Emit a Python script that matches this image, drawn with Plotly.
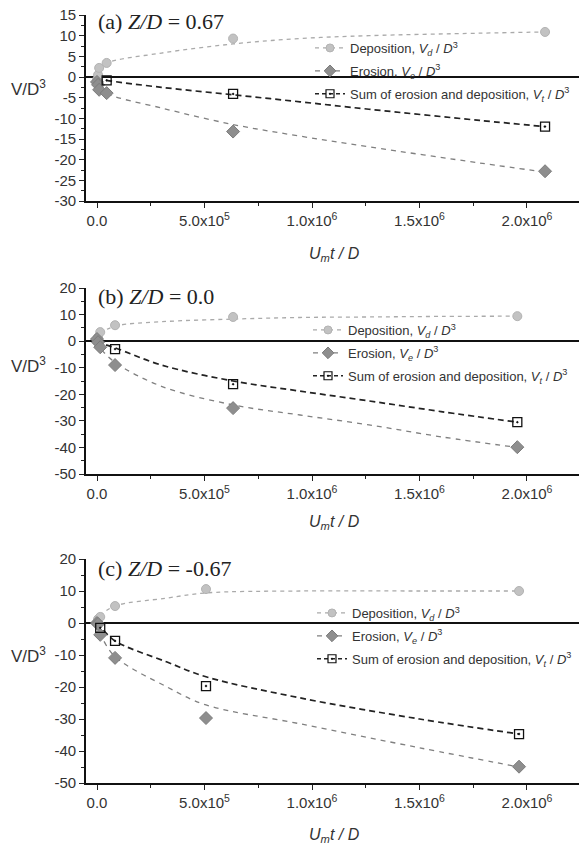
import plotly.graph_objects as go

# ---------------- data ----------------
# Panel (a) Z/D = 0.67
a_x = [0, 5e3, 1e4, 4.5e4, 6.33e5, 2.084e6]
a_dep = [-0.7, 0.5, 2.2, 3.4, 9.3, 10.9]
a_ero = [-1.2, -1.9, -3.1, -3.9, -13.2, -22.8]
a_sum_x = [4.5e4, 6.33e5, 2.084e6]
a_sum = [-0.8, -4.1, -12.0]
a_fit_x = [0, 1e4, 4.5e4, 3e5, 6.33e5, 9.44e5, 1.265e6, 1.78e6, 2.084e6]
a_fit_dep = [0.0, 2.0, 3.4, 5.8, 8.0, 9.3, 10.0, 10.6, 10.9]
a_fit_ero = [0.0, -2.0, -3.9, -7.5, -11.5, -14.3, -16.9, -20.8, -23.0]
a_fit_sum = [0.0, -0.4, -0.8, -2.5, -4.3, -6.0, -7.8, -10.5, -12.0]

# Panel (b) Z/D = 0.0
b_x = [0, 5e3, 1.5e4, 8.4e4, 6.33e5, 1.955e6]
b_dep = [0.0, 1.5, 3.4, 6.0, 9.1, 9.4]
b_ero = [0.8, -0.4, -2.3, -9.0, -25.2, -39.9]
b_sum_x = [8.4e4, 6.33e5, 1.955e6]
b_sum = [-3.0, -16.2, -30.5]
b_fit_x = [0, 2e4, 8.4e4, 3e5, 6.33e5, 9.44e5, 1.265e6, 1.6e6, 1.955e6]
b_fit_dep = [0.0, 3.0, 5.6, 7.3, 8.3, 8.9, 9.1, 9.3, 9.4]
b_fit_ero = [0.0, -3.0, -8.0, -17.0, -24.0, -27.8, -31.5, -36.0, -40.0]
b_fit_sum = [0.0, -0.8, -2.5, -9.0, -15.0, -18.8, -22.5, -26.5, -30.5]

# Panel (c) Z/D = -0.67
c_x = [0, 5e3, 1.5e4, 8.4e4, 5.07e5, 1.963e6]
c_dep = [0.0, 1.2, 1.9, 5.3, 10.6, 10.0]
c_ero = [0.0, -0.3, -3.7, -10.9, -29.7, -44.9]
c_sum_x = [1.5e4, 8.4e4, 5.07e5, 1.963e6]
c_sum = [-1.5, -5.6, -19.7, -34.7]
c_fit_x = [0, 2e4, 8.4e4, 3.26e5, 5.07e5, 9.44e5, 1.5e6, 1.963e6]
c_fit_dep = [0.0, 2.5, 5.3, 7.8, 9.4, 10.0, 10.0, 10.0]
c_fit_ero = [0.0, -4.0, -10.5, -20.0, -25.6, -31.5, -39.0, -45.0]
c_fit_sum = [0.0, -1.5, -5.6, -12.2, -16.8, -23.4, -30.0, -34.7]

panel_titles = ["(a) <i>Z/D</i> = 0.67", "(b) <i>Z/D</i> = 0.0", "(c) <i>Z/D</i> = -0.67"]
legend_names = ["Deposition, <i>V<sub>d</sub></i> / <i>D</i><sup>3</sup>",
                "Erosion, <i>V<sub>e</sub></i> / <i>D</i><sup>3</sup>",
                "Sum of erosion and deposition, <i>V<sub>t</sub></i> / <i>D</i><sup>3</sup>"]
x_tickvals = [0, 5e5, 1e6, 1.5e6, 2e6]
x_ticktext = ["0.0", "5.0x10<sup>5</sup>", "1.0x10<sup>6</sup>", "1.5x10<sup>6</sup>", "2.0x10<sup>6</sup>"]
x_minor = [2.5e5, 7.5e5, 1.25e6, 1.75e6]
a_yticks = [15, 10, 5, 0, -5, -10, -15, -20, -25, -30]
bc_yticks = [20, 10, 0, -10, -20, -30, -40, -50]

# ---------------- layout geometry ----------------
W, H = 579, 848
L = 86
def px_x(p):
    return (p - L) / (W - L)
def px_y(p):
    return 1 - p / H

x_range = [-5.116e4, 2.2419e6]

panels = [
    dict(top=15, bot=201, yr=[-30, 15], yt=a_yticks, ymin=[12.5, 7.5, 2.5, -2.5, -7.5, -12.5, -17.5, -22.5, -27.5],
         x=a_x, dep=a_dep, ero=a_ero, sx=a_sum_x, s=a_sum,
         fx=a_fit_x, fdep=a_fit_dep, fero=a_fit_ero, fsum=a_fit_sum,
         title_y=21, ylab_y=88, xlab_y=255, leg_x=310, leg_y=33),
    dict(top=288, bot=474, yr=[-50, 20], yt=bc_yticks, ymin=[15, 5, -5, -15, -25, -35, -45],
         x=b_x, dep=b_dep, ero=b_ero, sx=b_sum_x, s=b_sum,
         fx=b_fit_x, fdep=b_fit_dep, fero=b_fit_ero, fsum=b_fit_sum,
         title_y=296, ylab_y=365, xlab_y=522, leg_x=308, leg_y=315),
    dict(top=559, bot=783, yr=[-50, 20], yt=bc_yticks, ymin=[15, 5, -5, -15, -25, -35, -45],
         x=c_x, dep=c_dep, ero=c_ero, sx=c_sum_x, s=c_sum,
         fx=c_fit_x, fdep=c_fit_dep, fero=c_fit_ero, fsum=c_fit_sum,
         title_y=568, ylab_y=655, xlab_y=835, leg_x=312, leg_y=598),
]

DEP_C, DEP_L = "#c2c2c2", "#b3b3b3"
ERO_C, ERO_L = "#8e8e8e", "#7c7c7c"
FONT = "Liberation Sans, Arial, sans-serif"
SERIF = "Liberation Serif, Times New Roman, serif"

fig = go.Figure()
annotations = []
layout = dict(width=W, height=H, margin=dict(l=L, r=0, t=0, b=0, autoexpand=False),
              paper_bgcolor="white", plot_bgcolor="white", showlegend=True)

for i, p in enumerate(panels):
    n = "" if i == 0 else str(i + 1)
    xa, ya = "x" + n, "y" + n
    leg = "legend" + n
    # fits
    fig.add_trace(go.Scatter(x=p["fx"], y=p["fdep"], mode="lines", line_shape="spline",
                             line=dict(color="#aaaaaa", width=1.3, dash="4px,4px"),
                             xaxis=xa, yaxis=ya, showlegend=False, hoverinfo="skip"))
    fig.add_trace(go.Scatter(x=p["fx"], y=p["fero"], mode="lines", line_shape="spline",
                             line=dict(color="#808080", width=1.3, dash="5px,5px"),
                             xaxis=xa, yaxis=ya, showlegend=False, hoverinfo="skip"))
    fig.add_trace(go.Scatter(x=p["fx"], y=p["fsum"], mode="lines", line_shape="spline",
                             line=dict(color="#222222", width=1.7, dash="6px,4px"),
                             xaxis=xa, yaxis=ya, showlegend=False, hoverinfo="skip"))
    # markers
    fig.add_trace(go.Scatter(x=p["x"], y=p["dep"], mode="markers",
                             marker=dict(symbol="circle", size=9, color=DEP_C, line=dict(color=DEP_L, width=1)),
                             xaxis=xa, yaxis=ya, showlegend=False))
    fig.add_trace(go.Scatter(x=p["x"], y=p["ero"], mode="markers",
                             marker=dict(symbol="diamond", size=10, color=ERO_C, line=dict(color=ERO_L, width=1)),
                             xaxis=xa, yaxis=ya, showlegend=False))
    fig.add_trace(go.Scatter(x=p["sx"], y=p["s"], mode="markers",
                             marker=dict(symbol="square-open-dot", size=9, color="#111111", line=dict(width=1.3)),
                             xaxis=xa, yaxis=ya, showlegend=False))
    # legend entries
    styles = [
        (dict(color="#aaaaaa", width=1.3, dash="4px,4px"), dict(symbol="circle", size=8, color=DEP_C, line=dict(color=DEP_L, width=1))),
        (dict(color="#808080", width=1.3, dash="5px,5px"), dict(symbol="diamond", size=9, color=ERO_C, line=dict(color=ERO_L, width=1))),
        (dict(color="#222222", width=1.7, dash="4px,3px"), dict(symbol="square-open-dot", size=8, color="#111111", line=dict(width=1.2))),
    ]
    for k, (ln, mk) in enumerate(styles):
        fig.add_trace(go.Scatter(x=[None], y=[None], mode="lines+markers", name=legend_names[k],
                                 line=ln, marker=mk, xaxis=xa, yaxis=ya, legend=leg,
                                 legendgroup=f"g{i}{k}", showlegend=True))
    layout[leg] = dict(x=px_x(p["leg_x"]), y=px_y(p["leg_y"]), xanchor="left", yanchor="top",
                       bgcolor="rgba(0,0,0,0)", font=dict(family=FONT, size=13, color="#333333"),
                       tracegroupgap=3, itemwidth=30)
    dom = [px_y(p["bot"]), px_y(p["top"])]
    layout["xaxis" + n] = dict(domain=[0, 1], range=x_range, anchor=ya,
                               tickvals=x_tickvals, ticktext=x_ticktext, ticks="outside", ticklen=5,
                               tickwidth=1.3, tickcolor="#222", showline=True, linecolor="#111", linewidth=1.8,
                               showgrid=False, zeroline=False,
                               minor=dict(tickvals=x_minor, ticks="outside", ticklen=3, tickcolor="#222"),
                               tickfont=dict(family=FONT, size=15, color="#333"))
    layout["yaxis" + n] = dict(domain=dom, range=p["yr"], anchor=xa,
                               tickvals=p["yt"], ticktext=[str(v) for v in p["yt"]], ticks="outside", ticklen=5,
                               tickwidth=1.3, tickcolor="#222", showline=True, linecolor="#111", linewidth=1.6,
                               showgrid=False, zeroline=True, zerolinecolor="#111", zerolinewidth=1.6,
                               minor=dict(tickvals=p["ymin"], ticks="outside", ticklen=3, tickcolor="#222"),
                               tickfont=dict(family=FONT, size=15, color="#333"))
    annotations.append(dict(text=panel_titles[i], xref="paper", yref="paper", x=px_x(96), y=px_y(p["title_y"]),
                            xanchor="left", yanchor="middle", showarrow=False,
                            font=dict(family=SERIF, size=22, color="#222")))
    annotations.append(dict(text="V/D<sup>3</sup>", xref="paper", yref="paper", x=px_x(28), y=px_y(p["ylab_y"]),
                            xanchor="center", yanchor="middle", showarrow=False,
                            font=dict(family=FONT, size=17, color="#333")))
    annotations.append(dict(text="<i>U<sub>m</sub>t / D</i>", xref="paper", yref="paper", x=px_x(334), y=px_y(p["xlab_y"]),
                            xanchor="center", yanchor="middle", showarrow=False,
                            font=dict(family=FONT, size=16, color="#333")))

layout["annotations"] = annotations
fig.update_layout(**layout)
fig.write_html("out.html", config={"displayModeBar": False},
               post_script="document.body.style.margin='0';document.body.style.overflow='hidden';")
